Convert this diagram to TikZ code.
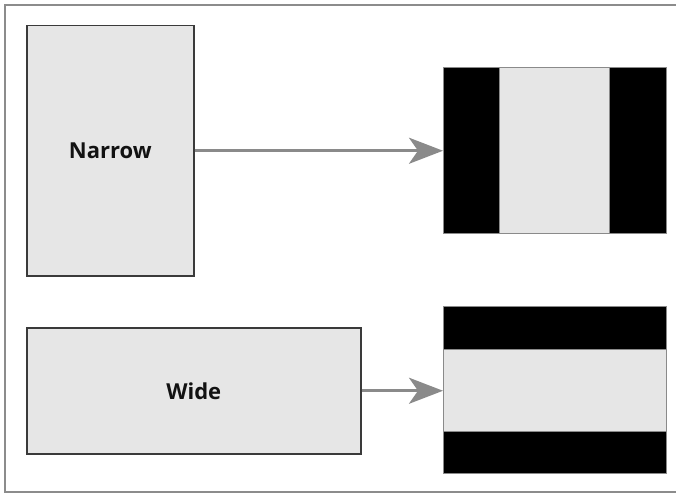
\documentclass[tikz,border=0pt]{standalone}
\usepackage{fontspec}
\setmainfont{Open Sans}
\usetikzlibrary{arrows.meta}
\definecolor{boxfill}{HTML}{E6E6E6}
\definecolor{boxedge}{HTML}{3A3A3A}
\definecolor{arrowgray}{HTML}{8A8A8A}
\definecolor{framegray}{HTML}{8C8C8C}
\definecolor{screenedge}{HTML}{8A8A8A}
\begin{document}
\begin{tikzpicture}[x=1pt,y=-1pt,
  srcbox/.style={draw=boxedge,fill=boxfill,line width=1.5pt,inner sep=0pt,anchor=north west,
    font=\fontsize{22}{26}\selectfont\bfseries,text=black!93},
  screenbox/.style={draw=screenedge,fill=black,line width=1pt,inner sep=0pt,anchor=north west},
  imagebox/.style={draw=screenedge,fill=boxfill,line width=1pt,inner sep=0pt,anchor=north west},
  conn/.style={draw=arrowgray,line width=3pt,-{Stealth[length=34pt,width=26pt,inset=9pt]}},
  framestyle/.style={draw=framegray,line width=2pt}]
\useasboundingbox (0,0) rectangle (676,494);
\draw[framestyle] (676,5) -- (5,5) -- (5,492) -- (676,492);
% narrow source
\node[srcbox,minimum width=167pt,minimum height=250pt] (narrow) at (26,25) {Narrow};
% wide source
\node[srcbox,minimum width=334pt,minimum height=126pt] (wide) at (26,327) {Wide};
% top screen (pillarbox)
\node[screenbox,minimum width=223pt,minimum height=166pt] (scrA) at (443,67) {};
\node[imagebox,minimum width=110pt,minimum height=166pt] (imgA) at (499,67) {};
% bottom screen (letterbox)
\node[screenbox,minimum width=223pt,minimum height=167pt] (scrB) at (443,306) {};
\node[imagebox,minimum width=223pt,minimum height=82pt] (imgB) at (443,349) {};
% connectors
\draw[conn] (narrow.east) -- (narrow.east -| scrA.west);
\draw[conn] (wide.east) -- (wide.east -| scrB.west);
\end{tikzpicture}
\end{document}
